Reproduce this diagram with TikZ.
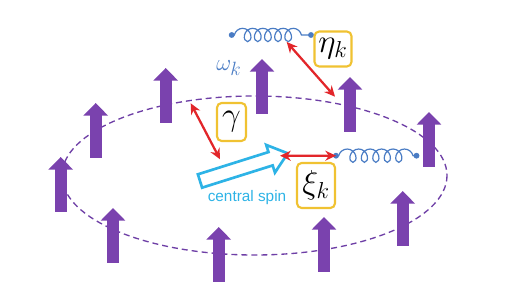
\documentclass[tikz,border=0pt]{standalone}
\usepackage{amsmath}
\usepackage{fontspec}
\usetikzlibrary{arrows.meta,decorations.pathmorphing}
\newfontfamily\labelfont{Liberation Sans}
\definecolor{spinpurple}{HTML}{7A42AE}
\definecolor{ringpurple}{HTML}{6E3FA6}
\definecolor{couplered}{HTML}{E2262A}
\definecolor{boxyellow}{HTML}{F0C232}
\definecolor{springblue}{HTML}{4A7CC4}
\definecolor{centralcyan}{HTML}{2DB3E6}

\tikzset{
  bathspin/.style={spinpurple, line width=9pt, -{Triangle[length=9.5pt, width=18pt]}},
  coupling/.style={couplered, line width=1.7pt, {Stealth[length=8pt, width=7.5pt]}-{Stealth[length=8pt, width=7.5pt]}},
  parambox/.style={draw=boxyellow, line width=1.6pt, rounded corners=3.5pt, fill=white, inner sep=0pt, font=\fontsize{23}{26}\selectfont},
  springline/.style={springblue, line width=0.9pt, decorate,
    decoration={coil, aspect=0.85, amplitude=5pt, segment length=#1, pre length=2pt, post length=2pt}},
}

\begin{document}
\begin{tikzpicture}[x=0.75pt, y=-0.75pt]
  \useasboundingbox (0,0) rectangle (532,295);

  % ring of bath spins
  \draw[ringpurple, line width=1pt, dash pattern=on 4.5pt off 3pt] (254.5,175.5) ellipse [x radius=192.5, y radius=79.5];
  \foreach \sx/\sy in {60.7/157, 95.7/103, 165.7/68, 262/59, 350/77, 429/112, 402.7/191, 324/217, 218.7/227, 113/208}
    \draw[bathspin] (\sx,\sy+55) -- (\sx,\sy);

  % bosonic modes
  \coordinate (bathL) at (231.7,35);
  \coordinate (bathR) at (311,35);
  \coordinate (modeL) at (336,155.7);
  \coordinate (modeR) at (416.5,155.7);
  \draw[springline=7.6pt] (bathL) -- (bathR);
  \draw[springline=8.6pt] (modeL) -- (modeR);
  \foreach \p in {bathL, bathR, modeL, modeR}
    \fill[springblue] (\p) circle (2.2pt);
  \node[springblue, font=\fontsize{19}{21}\selectfont] (omega) at (229,68) {$\omega_k$};

  % central spin
  \begin{scope}[shift={(200,181)}, rotate=17.5]
    \draw[centralcyan, line width=2pt, line join=miter, fill=white]
      (0,-7) -- (74,-7) -- (74,-14.5) -- (92,0) -- (74,14.5) -- (74,7) -- (0,7) -- cycle;
    \coordinate (tip) at (84,0);
  \end{scope}
  \node[centralcyan, font=\labelfont\fontsize{11.5}{13}\selectfont] (central) at (247,198) {central spin};

  % couplings
  \coordinate (etaA) at (286.7,42);
  \coordinate (etaB) at (335,96.7);
  \coordinate (gamA) at (190.7,103.3);
  \coordinate (gamB) at (220,159.3);
  \draw[coupling] (etaA) -- (etaB);
  \draw[coupling] (gamA) -- (gamB);
  \draw[coupling] (tip) -- (modeL);

  \node[parambox, minimum width=27.75pt, minimum height=26.25pt] (eta) at (333,49) {$\eta_k$};
  \node[parambox, minimum width=21.75pt, minimum height=28.5pt] (gam) at (231.5,122) {$\gamma$};
  \node[parambox, minimum width=28.5pt, minimum height=33.75pt] (xi) at (316,185.5) {$\xi_k$};
\end{tikzpicture}
\end{document}
